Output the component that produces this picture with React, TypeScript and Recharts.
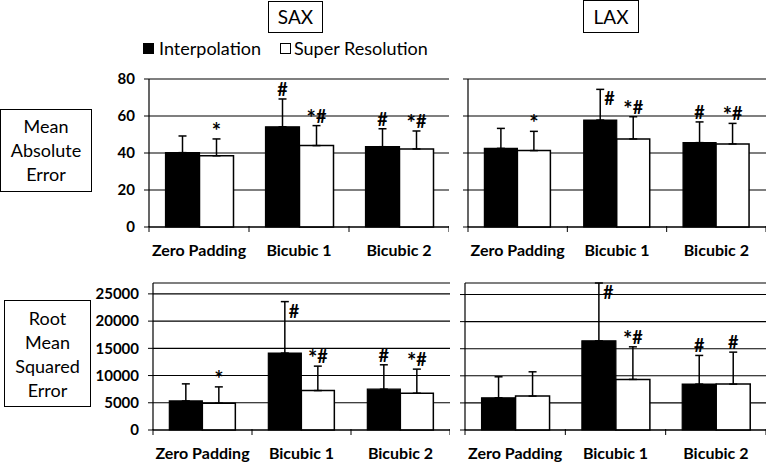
import { Bar, BarChart, CartesianGrid, ErrorBar, LabelList, XAxis, YAxis } from "recharts";

const CATEGORIES = ["Zero Padding", "Bicubic 1", "Bicubic 2"];

// Mean absolute error
const SAX_MAE_INTERP = [40.2, 54.2, 43.4];
const SAX_MAE_INTERP_ERR = [9.0, 15.0, 9.7];
const SAX_MAE_SR = [38.5, 44.0, 42.2];
const SAX_MAE_SR_ERR = [9.1, 10.8, 9.7];
const LAX_MAE_INTERP = [42.5, 57.8, 45.6];
const LAX_MAE_INTERP_ERR = [10.8, 16.6, 11.2];
const LAX_MAE_SR = [41.3, 47.6, 44.9];
const LAX_MAE_SR_ERR = [10.4, 12.0, 11.1];

// Root mean squared error
const SAX_RMSE_INTERP = [5340, 14130, 7500];
const SAX_RMSE_INTERP_ERR = [3135, 9450, 4475];
const SAX_RMSE_SR = [4920, 7240, 6760];
const SAX_RMSE_SR_ERR = [3000, 4490, 4420];
const LAX_RMSE_INTERP = [5950, 16450, 8470];
const LAX_RMSE_INTERP_ERR = [3870, 10680, 5290];
const LAX_RMSE_SR = [6260, 9340, 8470];
const LAX_RMSE_SR_ERR = [4480, 6010, 5900];

// significance marks
const SAX_MAE_INTERP_MARK = ["", "#", "#"];
const SAX_MAE_SR_MARK = ["*", "*#", "*#"];
const LAX_MAE_INTERP_MARK = ["", "#", "#"];
const LAX_MAE_SR_MARK = ["*", "*#", "*#"];
const SAX_RMSE_INTERP_MARK = ["", "#", "#"];
const SAX_RMSE_SR_MARK = ["*", "*#", "*#"];
const LAX_RMSE_INTERP_MARK = ["", "#", "#"];
const LAX_RMSE_SR_MARK = ["", "*#", "#"];

const MAE_TICKS = [0, 20, 40, 60, 80];
const RMSE_TICKS = [0, 5000, 10000, 15000, 20000, 25000];
const RMSE_MAX = 27000;

const FONT = "Lato, 'Open Sans', sans-serif";

type Row = { cat: string; i: number; s: number; ei: [number, number]; es: [number, number]; mi: string; ms: string };

function rows(i: number[], ei: number[], s: number[], es: number[], mi: string[], ms: string[]): Row[] {
  return CATEGORIES.map((cat, k) => ({
    cat,
    i: i[k],
    s: s[k],
    ei: [0, ei[k]],
    es: [0, es[k]],
    mi: mi[k],
    ms: ms[k],
  }));
}

const TOP = 14;

// "*" in Lato is small and raised, so draw it a bit larger
function MarkText({ text }: { text: string }) {
  return (
    <>
      {text.split("").map((c, k) =>
        c === "*" ? (
          <tspan key={k} fontSize={22} dy={k === 0 ? 3 : 0}>
            {c}
          </tspan>
        ) : (
          <tspan key={k} fontSize={18} dy={text[0] === "*" ? -3 : 0}>
            {c}
          </tspan>
        )
      )}
    </>
  );
}

function markRenderer(data: Row[], key: "i" | "s") {
  return (p: any) => {
    const row = data[p.index];
    if (!row) return null;
    const text = key === "i" ? row.mi : row.ms;
    if (!text) return null;
    const val = row[key];
    const err = (key === "i" ? row.ei : row.es)[1];
    const pxPerUnit = Number(p.height) / val;
    const errTop = Number(p.y) - err * pxPerUnit;
    const cx = Number(p.x) + Number(p.width) / 2;
    const room = errTop - TOP;
    if (room < 19.3) {
      return (
        <text x={cx + 4} y={errTop + 16} fontWeight={700} fontFamily={FONT} fill="#000">
          <MarkText text={text} />
        </text>
      );
    }
    return (
      <text x={cx} y={errTop - 3} textAnchor="middle" fontWeight={700} fontFamily={FONT} fill="#000">
        <MarkText text={text} />
      </text>
    );
  };
}

function CatTick(props: any) {
  const { x, y, payload, index, visibleTicksCount } = props;
  const off = payload.offset || 50;
  const y0 = y - 19;
  return (
    <g>
      <line x1={x - off} y1={y0} x2={x - off} y2={y0 + 6} stroke="#000" />
      {index === visibleTicksCount - 1 && <line x1={x + off} y1={y0} x2={x + off} y2={y0 + 6} stroke="#000" />}
      <text x={x} y={y} dy="0.71em" textAnchor="middle" fontSize={16} fontWeight={700} fontFamily={FONT} fill="#000">
        {payload.value}
      </text>
    </g>
  );
}

function Panel({
  data,
  left,
  top,
  plotW,
  plotH,
  ticks,
  max,
  showLabels,
  axisW,
}: {
  data: Row[];
  left: number;
  top: number;
  plotW: number;
  plotH: number;
  ticks: number[];
  max: number;
  showLabels: boolean;
  axisW: number;
}) {
  return (
    <div style={{ position: "absolute", left, top }}>
      <BarChart
        width={axisW + plotW}
        height={TOP + plotH + 34}
        data={data}
        margin={{ top: TOP, right: 0, bottom: 0, left: 0 }}
        barCategoryGap="16.5%"
        barGap={0}
      >
        <CartesianGrid vertical={false} stroke="#000" strokeWidth={1.1} />
        <XAxis
          dataKey="cat"
          tick={<CatTick />}
          tickLine={false}
          tickSize={6}
          tickMargin={12}
          height={34}
          axisLine={{ stroke: "#000", strokeWidth: 1.2 }}
          interval={0}
        />
        <YAxis
          type="number"
          domain={[0, max]}
          ticks={ticks}
          width={axisW}
          tickSize={5}
          tickMargin={9}
          tickLine={{ stroke: "#000" }}
          axisLine={{ stroke: "#000", strokeWidth: 1.2 }}
          tick={showLabels ? { fill: "#000", fontSize: 15, fontWeight: 700, fontFamily: FONT } : () => <g />}
          interval={0}
        />
        <Bar dataKey="i" fill="#000" stroke="#000" strokeWidth={1.2} isAnimationActive={false}>
          <ErrorBar dataKey="ei" width={4} stroke="#000" strokeWidth={1.5} direction="y" />
          <LabelList dataKey="mi" content={markRenderer(data, "i")} />
        </Bar>
        <Bar dataKey="s" fill="#fff" stroke="#000" strokeWidth={1.5} isAnimationActive={false}>
          <ErrorBar dataKey="es" width={4} stroke="#000" strokeWidth={1.5} direction="y" />
          <LabelList dataKey="ms" content={markRenderer(data, "s")} />
        </Bar>
      </BarChart>
    </div>
  );
}

const boxText = { fontFamily: FONT, fontSize: 18, color: "#000", lineHeight: "24px", textAlign: "center" as const };

export default function App() {
  const saxMae = rows(SAX_MAE_INTERP, SAX_MAE_INTERP_ERR, SAX_MAE_SR, SAX_MAE_SR_ERR, SAX_MAE_INTERP_MARK, SAX_MAE_SR_MARK);
  const laxMae = rows(LAX_MAE_INTERP, LAX_MAE_INTERP_ERR, LAX_MAE_SR, LAX_MAE_SR_ERR, LAX_MAE_INTERP_MARK, LAX_MAE_SR_MARK);
  const saxRmse = rows(SAX_RMSE_INTERP, SAX_RMSE_INTERP_ERR, SAX_RMSE_SR, SAX_RMSE_SR_ERR, SAX_RMSE_INTERP_MARK, SAX_RMSE_SR_MARK);
  const laxRmse = rows(LAX_RMSE_INTERP, LAX_RMSE_INTERP_ERR, LAX_RMSE_SR, LAX_RMSE_SR_ERR, LAX_RMSE_INTERP_MARK, LAX_RMSE_SR_MARK);

  return (
    <div style={{ position: "relative", width: 766, height: 463, background: "#fff", overflow: "hidden", fontFamily: FONT }}>
      <style>{"body{margin:0}"}</style>

      {/* column titles */}
      <div style={{ position: "absolute", left: 268, top: 1, width: 53, height: 30, border: "1.5px solid #000", ...boxText, fontSize: 19, lineHeight: "30px" }}>
        SAX
      </div>
      <div style={{ position: "absolute", left: 583, top: 0, width: 54, height: 31, border: "1.5px solid #000", ...boxText, fontSize: 19, lineHeight: "31px" }}>
        LAX
      </div>

      {/* legend */}
      <div style={{ position: "absolute", left: 143, top: 43, width: 11, height: 11, background: "#000" }} />
      <div style={{ position: "absolute", left: 159, top: 36, ...boxText, textAlign: "left" }}>Interpolation</div>
      <div style={{ position: "absolute", left: 280, top: 43, width: 9, height: 9, border: "1.2px solid #000", background: "#fff" }} />
      <div style={{ position: "absolute", left: 294, top: 36, ...boxText, textAlign: "left" }}>Super Resolution</div>

      {/* row titles */}
      <div style={{ position: "absolute", left: 0, top: 109, width: 92, height: 83, border: "1.5px solid #000", ...boxText, paddingTop: 4, boxSizing: "border-box" as const }}>
        Mean<br />Absolute<br />Error
      </div>
      <div style={{ position: "absolute", left: 4, top: 300, width: 87, height: 107, border: "1.5px solid #000", ...boxText, paddingTop: 5, boxSizing: "border-box" as const }}>
        Root<br />Mean<br />Squared<br />Error
      </div>

      <Panel data={saxMae} left={99} top={79 - TOP} plotW={300} plotH={148} ticks={MAE_TICKS} max={80} showLabels axisW={50} />
      <Panel data={laxMae} left={448} top={79 - TOP} plotW={298} plotH={148} ticks={MAE_TICKS} max={80} showLabels={false} axisW={20} />
      <Panel data={saxRmse} left={93} top={283 - TOP} plotW={297} plotH={147} ticks={RMSE_TICKS} max={RMSE_MAX} showLabels axisW={60} />
      <Panel data={laxRmse} left={445} top={283 - TOP} plotW={301} plotH={147} ticks={RMSE_TICKS} max={RMSE_MAX} showLabels={false} axisW={20} />
    </div>
  );
}
